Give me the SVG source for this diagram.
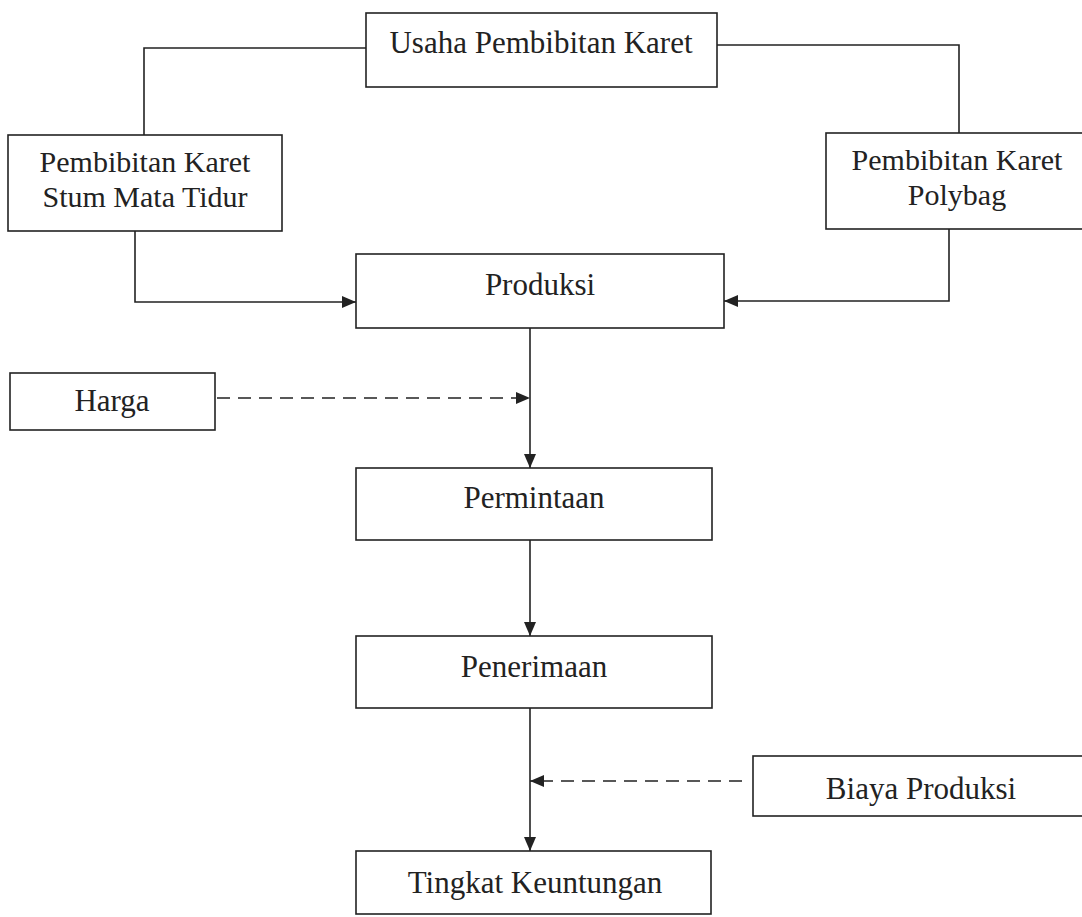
<svg xmlns="http://www.w3.org/2000/svg" width="1082" height="917" viewBox="0 0 1082 917">
<defs>
<style>
.box{fill:#fff;stroke:#222;stroke-width:1.6}
.t{font-family:"Liberation Serif","Times New Roman",serif;font-size:31px;fill:#222;text-anchor:middle}
.t2{font-family:"Liberation Serif","Times New Roman",serif;font-size:30px;fill:#222;text-anchor:middle}
.c{fill:none;stroke:#222;stroke-width:1.6}
.d{fill:none;stroke:#222;stroke-width:1.6;stroke-dasharray:13 8}
</style>
<marker id="ah" viewBox="0 0 14 12" refX="14" refY="6" markerWidth="14" markerHeight="12" markerUnits="userSpaceOnUse" orient="auto">
<path d="M0,0 L14,6 L0,12 Z" fill="#222"/>
</marker>
</defs>
<rect width="1082" height="917" fill="#fff"/>
<g id="connectors">
<polyline class="c" points="366,48 144,48 144,135"/>
<polyline class="c" points="717,45 959,45 959,133"/>
<polyline class="c" points="135,231 135,302 356,302" marker-end="url(#ah)"/>
<polyline class="c" points="949,229 949,301 724,301" marker-end="url(#ah)"/>
<line class="c" x1="530" y1="328" x2="530" y2="468" marker-end="url(#ah)"/>
<line class="d" x1="217" y1="398" x2="530" y2="398" marker-end="url(#ah)"/>
<line class="c" x1="530" y1="540" x2="530" y2="636" marker-end="url(#ah)"/>
<line class="c" x1="530" y1="708" x2="530" y2="851" marker-end="url(#ah)"/>
<line class="d" x1="742" y1="781" x2="530" y2="781" marker-end="url(#ah)"/>
</g>
<g id="usaha">
<rect class="box" x="366" y="13" width="351" height="74"/>
<text class="t" x="541" y="53">Usaha Pembibitan Karet</text>
</g>
<g id="stum">
<rect class="box" x="8" y="135" width="274" height="96"/>
<text class="t2" x="145" y="172">Pembibitan Karet</text>
<text class="t2" x="145" y="207">Stum Mata Tidur</text>
</g>
<g id="polybag">
<rect class="box" x="826" y="133" width="270" height="96"/>
<text class="t2" x="957" y="170">Pembibitan Karet</text>
<text class="t2" x="957" y="205">Polybag</text>
</g>
<g id="produksi">
<rect class="box" x="356" y="254" width="368" height="74"/>
<text class="t" x="540" y="295">Produksi</text>
</g>
<g id="harga">
<rect class="box" x="10" y="373" width="205" height="57"/>
<text class="t" x="112" y="411">Harga</text>
</g>
<g id="permintaan">
<rect class="box" x="356" y="468" width="356" height="72"/>
<text class="t" x="534" y="508">Permintaan</text>
</g>
<g id="penerimaan">
<rect class="box" x="356" y="636" width="356" height="72"/>
<text class="t" x="534" y="677">Penerimaan</text>
</g>
<g id="biaya">
<rect class="box" x="753" y="756" width="340" height="60"/>
<text class="t" x="921" y="799">Biaya Produksi</text>
</g>
<g id="tingkat">
<rect class="box" x="356" y="851" width="355" height="63"/>
<text class="t" x="535" y="893">Tingkat Keuntungan</text>
</g>
</svg>
